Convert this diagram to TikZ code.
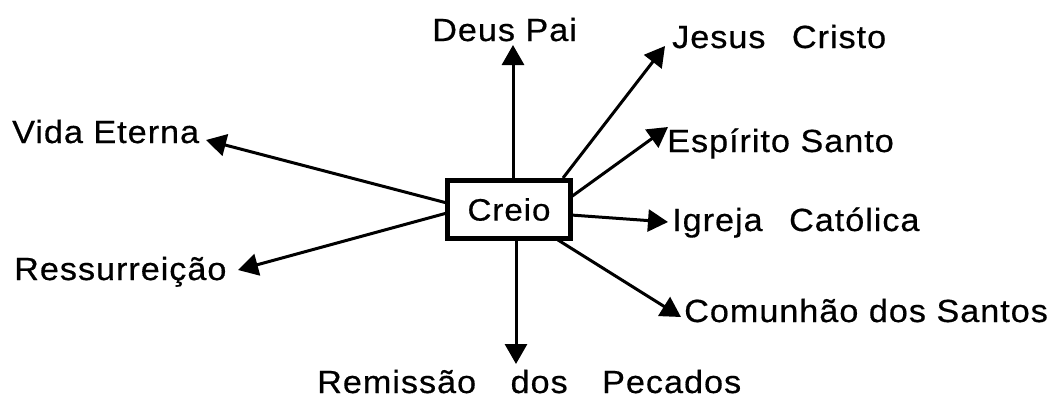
\documentclass[tikz,border=0pt]{standalone}
\usepackage{fontspec}
\setmainfont{Liberation Sans}[LetterSpace=3,FakeStretch=1.07,FakeBold=0.5]
\usetikzlibrary{arrows.meta}
\newcommand{\wgap}{\hspace{16pt}}
\newcommand{\wgapB}{\hspace{24pt}}
\begin{document}
\begin{tikzpicture}[x=1pt,y=-1pt,
  lbl/.style={anchor=base west,inner sep=0pt,font=\fontsize{32}{38}\selectfont},
  conn/.style={line width=3pt,-{Triangle[length=20pt,width=22pt]}},
  centerbox/.style={draw,line width=5pt,minimum width=123pt,minimum height=58pt,inner sep=0pt,font=\fontsize{31}{37}\selectfont}]
\useasboundingbox (0,0) rectangle (1058,400);
\node[centerbox] (creio) at (509,209.5) {Creio};
% labels
\node[lbl] (deus) at (432,41) {Deus Pai};
\node[lbl] (jesus) at (672,48) {Jesus \wgap Cristo};
\node[lbl] (espirito) at (667,152) {Espírito Santo};
\node[lbl] (igreja) at (672,231) {Igreja \wgap Católica};
\node[lbl] (comunhao) at (684,322) {Comunhão dos Santos};
\node[lbl] (remissao) at (317,393) {Remissão \wgapB dos \wgapB Pecados};
\node[lbl] (ressur) at (14,280) {Ressurreição};
\node[lbl] (vida) at (12,143) {Vida Eterna};
% start points on box
\coordinate (sDeus) at (513,180);
\coordinate (sJesus) at (563,178);
\coordinate (sEsp) at (571,197);
\coordinate (sIgr) at (571,215);
\coordinate (sCom) at (558,240);
\coordinate (sRem) at (516,239);
\coordinate (sRes) at (447,213);
\coordinate (sVida) at (447,203);
% tips
\coordinate (tDeus) at (513,45);
\coordinate (tJesus) at (665,46);
\coordinate (tEsp) at (668,127);
\coordinate (tIgr) at (668,222);
\coordinate (tCom) at (681,317);
\coordinate (tRem) at (516,364);
\coordinate (tRes) at (238,270);
\coordinate (tVida) at (206,140);
\draw[conn] (sDeus) -- (tDeus);
\draw[conn] (sJesus) -- (tJesus);
\draw[conn] (sEsp) -- (tEsp);
\draw[conn] (sIgr) -- (tIgr);
\draw[conn] (sCom) -- (tCom);
\draw[conn] (sRem) -- (tRem);
\draw[conn] (sRes) -- (tRes);
\draw[conn] (sVida) -- (tVida);
\end{tikzpicture}
\end{document}
